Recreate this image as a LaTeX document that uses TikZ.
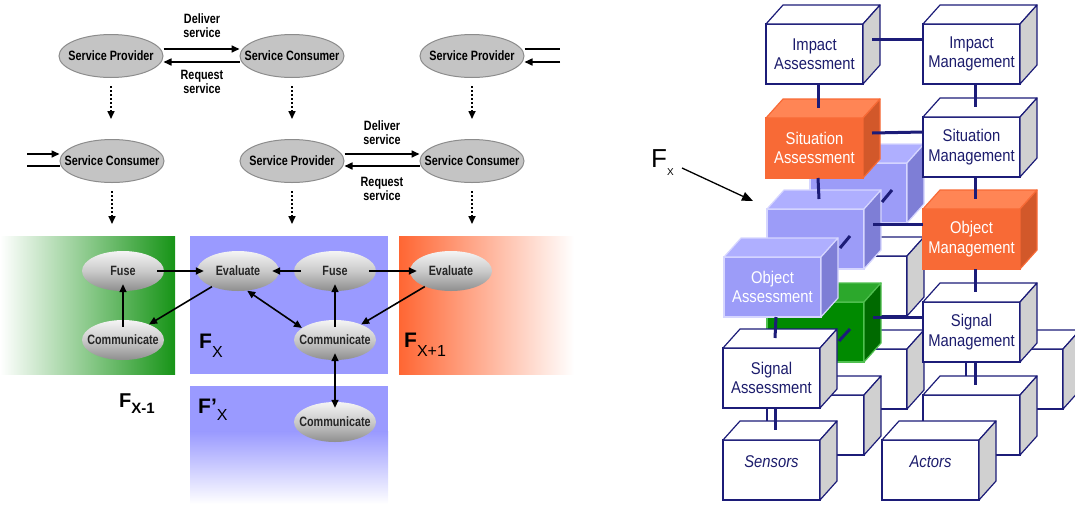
\documentclass[tikz,border=0pt]{standalone}
\usepackage{fontspec}
\setmainfont{Liberation Sans}
\newfontfamily\narrowfont[FakeStretch=0.8]{Liberation Sans}
\newfontfamily\boxfont[FakeStretch=0.87]{Liberation Sans}
\usetikzlibrary{shapes.geometric,arrows.meta}

\definecolor{ellfill}{HTML}{C4C4C4}
\definecolor{elldraw}{HTML}{8C8C8C}
\definecolor{balltop}{HTML}{F4F4F4}
\definecolor{ballmid}{HTML}{CACACA}
\definecolor{ballbot}{HTML}{8E8E8E}
\definecolor{fxblue}{HTML}{9A9AFF}
\definecolor{fxgreen}{HTML}{179417}
\definecolor{fxorange}{HTML}{FF6633}
\definecolor{navy}{HTML}{1C1C78}
\definecolor{boxtext}{HTML}{1C1C6C}
\definecolor{sidegray}{HTML}{D0D0D0}
\definecolor{orfront}{HTML}{F86A36}
\definecolor{ortop}{HTML}{FF8555}
\definecolor{orside}{HTML}{D2582A}
\definecolor{blfront}{HTML}{9C9CF8}
\definecolor{bltop}{HTML}{AFAFFF}
\definecolor{blside}{HTML}{7E7ED6}
\definecolor{bledge}{HTML}{D6D6FF}
\definecolor{grfront}{HTML}{008A00}
\definecolor{grtop}{HTML}{2CA82C}
\definecolor{grside}{HTML}{006A00}
\definecolor{gredge}{HTML}{50C050}

% text that does not widen the ellipse around it
\newcommand\ctext[1]{\makebox[0pt]{#1}}

\tikzset{
  svc/.style={ellipse, fill=ellfill, draw=elldraw, line width=1pt,
    minimum width=104pt, minimum height=43pt, inner sep=0pt,
    font=\narrowfont\bfseries\fontsize{13.5}{15}\selectfont},
  fnode/.style={ellipse, top color=balltop, bottom color=ballbot, middle color=ballmid,
    minimum width=82pt, minimum height=40pt, inner sep=0pt,
    font=\narrowfont\bfseries\fontsize{13.5}{15}\selectfont, text=black!85},
  slabel/.style={align=center, inner sep=0pt,
    font=\narrowfont\bfseries\fontsize{13.5}{14}\selectfont},
  sline/.style={line width=1.6pt},
  sarrow/.style={line width=1.6pt, -{Triangle[length=8pt,width=7pt]}},
  dotarrow/.style={line width=1.6pt, dash pattern=on 2pt off 2pt,
    -{Triangle[length=8pt,width=7pt]}},
  farrow/.style={line width=1.6pt, -{Triangle[length=8pt,width=7pt]},
    shorten <=-7pt, shorten >=-7pt},
  fdiag/.style={line width=1.6pt, -{Triangle[length=8pt,width=7pt]}},
  fboth/.style={line width=1.6pt, {Triangle[length=8pt,width=7pt]}-{Triangle[length=8pt,width=7pt]}},
  flab/.style={inner sep=0pt, anchor=base west,
    font=\fontsize{21}{21}\selectfont\bfseries},
  cubeface/.style={rectangle, minimum width=97pt, minimum height=60pt,
    inner sep=0pt, outer sep=0pt, line width=1.2pt, align=center,
    font=\boxfont\fontsize{17}{19.5}\selectfont},
  cubeedge/.style={line width=1.2pt, line join=round},
  conn/.style={draw=navy, line width=3pt},
  fxarrow/.style={line width=1.3pt, -{Triangle[length=11pt,width=9pt]}},
}

% one box of the stack: name, x, y of the front face, front/top/side fill, edge colour, text colour, text
\newcommand\boxcube[9]{%
  \node[cubeface, fill=#4, draw=#7, text=#8] (#1) at (#2+48.5,#3+30) {#9};
  \filldraw[cubeedge, fill=#5, draw=#7] (#1.north west) -- ++(17,-19) -- ++(97,0) -- (#1.north east) -- cycle;
  \filldraw[cubeedge, fill=#6, draw=#7] (#1.north east) -- ++(17,-19) -- ++(0,60) -- (#1.south east) -- cycle;
}
\newcommand\whitecube[4]{\boxcube{#1}{#2}{#3}{white}{white}{sidegray}{navy}{boxtext}{#4}}
\newcommand\orangecube[4]{\boxcube{#1}{#2}{#3}{orfront}{ortop}{orside}{orfront}{white}{#4}}
\newcommand\bluecube[4]{\boxcube{#1}{#2}{#3}{blfront}{bltop}{blside}{bledge}{white}{#4}}

\begin{document}
\begin{tikzpicture}[x=1pt,y=-1pt]
\useasboundingbox (0,0) rectangle (1075,504);

% ---------------- service chain ----------------
\node[svc] (SP1) at (111,56) {\ctext{Service Provider}};
\node[svc] (SC1) at (292,56) {\ctext{Service Consumer}};
\node[svc] (SP2) at (472,56) {\ctext{Service Provider}};
\node[svc] (SC2) at (112,161) {\ctext{Service Consumer}};
\node[svc] (SP3) at (292,161) {\ctext{Service Provider}};
\node[svc] (SC3) at (472,161) {\ctext{Service Consumer}};

\draw[sarrow] ([yshift=7pt]SP1.east) -- ([yshift=7pt]SC1.west);
\draw[sarrow] ([yshift=-6pt]SC1.west) -- ([yshift=-6pt]SP1.east);
\node[slabel] (dl1) at (202,26) {Deliver\\service};
\node[slabel] (rq1) at (202,82) {Request\\service};

\draw[sarrow] ([yshift=7pt]SP3.east) -- ([yshift=7pt]SC3.west);
\draw[sarrow] ([yshift=-5pt]SC3.west) -- ([yshift=-5pt]SP3.east);
\node[slabel] (dl2) at (382,133) {Deliver\\service};
\node[slabel] (rq2) at (382,189) {Request\\service};

\coordinate (sp2out) at (560,49);
\coordinate (sp2in) at (560,62);
\draw[sline] ([yshift=7pt]SP2.east) -- (sp2out);
\draw[sarrow] (sp2in) -- ([yshift=-6pt]SP2.east);
\coordinate (sc2in) at (27,154);
\coordinate (sc2out) at (27,166);
\draw[sarrow] (sc2in) -- ([yshift=7pt]SC2.west);
\draw[sline] ([yshift=-5pt]SC2.west) -- (sc2out);

\foreach \n in {SP1,SC1,SP2,SC2,SP3,SC3}
  \draw[dotarrow] ([yshift=-8pt]\n.south) -- ++(0,33);

% ---------------- fusion panels ----------------
\shade[left color=white, right color=fxgreen] (0,236) rectangle (175,374);
\fill[fxblue] (190,236) rectangle (388,374);
\shade[left color=fxorange, right color=white] (399,236) rectangle (574,374);
\fill[fxblue] (190,386) rectangle (388,432);
\shade[top color=fxblue, bottom color=white] (190,431.5) rectangle (388,504);

\node[fnode] (FuseL) at (123,271) {\ctext{Fuse}};
\node[fnode] (CommL) at (123,340) {\ctext{Communicate}};
\node[fnode] (EvalX) at (238,271) {\ctext{Evaluate}};
\node[fnode] (FuseX) at (335,271) {\ctext{Fuse}};
\node[fnode] (EvalX1) at (451,271) {\ctext{Evaluate}};
\node[fnode] (CommX) at (335,340) {\ctext{Communicate}};
\node[fnode] (CommXp) at (335,422) {\ctext{Communicate}};

\draw[farrow] (FuseL) -- (EvalX);
\draw[farrow] (CommL) -- (FuseL);
\draw[fdiag] (EvalX) -- (CommL);
\draw[farrow] (FuseX) -- (EvalX);
\draw[farrow] (FuseX) -- (EvalX1);
\draw[fboth] (EvalX.-65) -- (CommX.160);
\draw[farrow] (CommX) -- (FuseX);
\draw[fdiag] (EvalX1) -- (CommX);
\draw[fboth, shorten <=-7pt, shorten >=-6pt] (CommX) -- (CommXp);

\node[flab] (lFx) at (199,348) {F\raisebox{-9pt}{\fontsize{16}{16}\selectfont\mdseries X}};
\node[flab] (lFxp) at (198,413) {F’\raisebox{-7pt}{\fontsize{16}{16}\selectfont\mdseries X}};
\node[flab] (lFx1) at (404,347) {F\raisebox{-9pt}{\fontsize{16}{16}\selectfont\mdseries X+1}};
\node[flab, font=\fontsize{20}{20}\selectfont\bfseries] (lFxm) at (119,407) {F\raisebox{-6pt}{\fontsize{15}{15}\selectfont X-1}};

% ---------------- cube stack ----------------
% rear layer
\bluecube{Bobj}{810}{163}{}
\whitecube{Bsig}{810}{256}{}
\whitecube{Bsen}{810}{349}{}
\whitecube{Bmsen}{966}{349}{}
\draw[conn] ([shift={(3.5,0)}]Bobj.south) -- ([shift={(3.5,-10)}]Bsig.north);
\draw[conn] ([shift={(3.5,0)}]Bsig.south) -- ([shift={(3.5,-10)}]Bsen.north);

% middle layer
\whitecube{IA}{766}{24}{Impact\\Assessment}
\orangecube{SA}{766}{118}{Situation\\Assessment}
\bluecube{Mobj}{767}{209}{}
\boxcube{Gsig}{767}{302}{grfront}{grtop}{grside}{gredge}{white}{}
\whitecube{Msen}{767}{395}{}
\whitecube{IM}{923}{24}{Impact\\Management}
\whitecube{SM}{923}{117}{Situation\\Management}
\orangecube{OM}{923}{209}{Object\\Management}
\whitecube{SigM}{923}{302}{Signal\\Management}
\whitecube{Mmsen}{923}{395}{}

\foreach \a/\b in {IA/SA,SA/Mobj,Mobj/Gsig,Gsig/Msen,IM/SM,SM/OM,OM/SigM,SigM/Mmsen}
  \draw[conn] ([shift={(3.5,0)}]\a.south) -- ([shift={(3.5,-10)}]\b.north);
\foreach \a/\b in {IA/IM,SA/SM,Mobj/OM,Gsig/SigM}
  \draw[conn] ([shift={(9,15)}]\a.north east) -- ([shift={(0,15)}]\b.north west);
\draw[conn] ([shift={(18,-7)}]Mobj.north east) -- ([shift={(82,27)}]Bobj.north west);

% front layer
\bluecube{OA}{724}{257}{Object\\Assessment}
\whitecube{SigA}{723}{348}{Signal\\Assessment}
\whitecube{Sen}{723}{440}{}
\node[font=\boxfont\itshape\fontsize{17}{19}\selectfont, text=boxtext, inner sep=0pt] (senlab) at (771.5,462) {Sensors};
\whitecube{Act}{882}{440}{}
\node[font=\boxfont\itshape\fontsize{17}{19}\selectfont, text=boxtext, inner sep=0pt] (actlab) at (930.5,462) {Actors};

\foreach \a/\b in {OA/SigA,SigA/Sen}
  \draw[conn] ([shift={(3.5,0)}]\a.south) -- ([shift={(3.5,-10)}]\b.north);
\draw[conn] ([shift={(19,-9)}]OA.north east) -- ([shift={(83,27)}]Mobj.north west);
\draw[conn] ([shift={(19,-7)}]SigA.north east) -- ([shift={(83,27)}]Gsig.north west);

% layer pointer
\node[inner sep=0pt, anchor=base west] (fxlab) at (651,167)
  {\fontsize{26}{26}\selectfont F\raisebox{-8pt}{\fontsize{10}{10}\selectfont X}};
\coordinate (fxtail) at (682,168);
\draw[fxarrow] (fxtail) -- ([shift={(-14,-8)}]Mobj.north west);
\end{tikzpicture}
\end{document}
